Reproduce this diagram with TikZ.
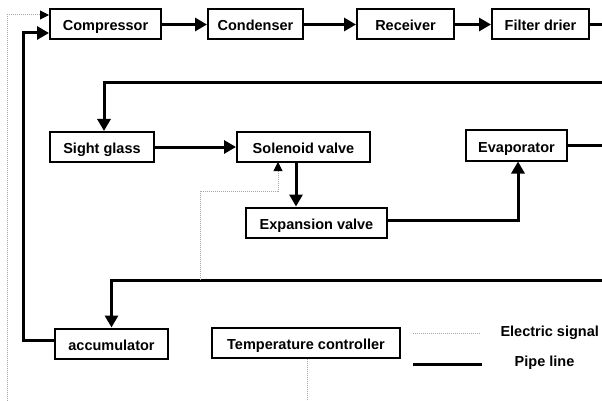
\documentclass[tikz,border=0pt]{standalone}
\usepackage{fontspec}
\setmainfont{Liberation Sans}
\usetikzlibrary{arrows.meta}
\tikzset{
  unit/.style={draw, line width=2pt, inner sep=0pt, minimum height=30pt,
    text height=14pt, text depth=1pt,
    font=\fontsize{14.5}{17}\selectfont\bfseries},
  pipe/.style={line width=3pt},
  signal/.style={gray!70, line width=1pt, dash pattern=on 1pt off 1pt},
  flow/.style={pipe, -{Triangle[length=12pt,width=13pt]}},
  ctrl/.style={signal, -{Triangle[length=9pt,width=9pt,black,fill=black]}}
}
\begin{document}
\begin{tikzpicture}[x=1pt,y=-1pt]
        \useasboundingbox (0,0) rectangle (602,401);
        \node[unit, minimum width=111pt] (comp) at (105.5,24.5) {Compressor};
        \node[unit, minimum width=95pt] (cond) at (255.5,24.5) {Condenser};
        \node[unit, minimum width=97pt] (recv) at (405.5,24.5) {Receiver};
        \node[unit, minimum width=97pt] (filt) at (540.5,24.5) {Filter drier};
        \node[unit, minimum width=104pt] (sight) at (102,147) {Sight glass};
        \node[unit, minimum width=133pt] (sol) at (303.5,147) {Solenoid valve};
        \node[unit, minimum width=141pt] (exp) at (316.5,222.5) {Expansion valve};
        \node[unit, minimum width=101pt] (evap) at (516.5,145.5) {Evaporator};
        \node[unit, minimum width=113pt] (acc) at (111.5,343.5) {accumulator};
        \node[unit, minimum width=188pt] (temp) at (306,342.5) {Temperature controller};
        \coordinate (filtout) at (602,24.5);
        \coordinate (liqin) at (602,83);
        \coordinate (evapout) at (602,145.5);
        \coordinate (sucin) at (602,280);
        \coordinate (sucret) at (23,33);
        \coordinate (sigleft) at (7,401);
        \coordinate (sigmid) at (200,280);
        \coordinate (sigbot) at (307,401);
        \draw[flow] (comp) -- (cond);
        \draw[flow] (cond) -- (recv);
        \draw[flow] (recv) -- (filt);
        \draw[pipe] (filt) -- (filtout);
        \draw[flow] (liqin) -| ([xshift=2pt]sight.north);
        \draw[flow] (sight) -- (sol);
        \draw[flow] ([xshift=-7.5pt]sol.south) -- ([xshift=-7.5pt]sol.south |- exp.north);
        \draw[flow] ([yshift=2.5pt]exp.east) -| ([xshift=1.5pt]evap.south);
        \draw[pipe] (evap) -- (evapout);
        \draw[flow] (sucin) -| (acc.north);
        \draw[flow] ([yshift=3pt]acc.west) -| (sucret) -- (sucret -| comp.west);
        \draw[ctrl] (sigleft) |- ([yshift=9.5pt]comp.west);
        \draw[ctrl] (sigmid) |- (278,191) -- (278,162);
        \draw[signal] ([xshift=1pt]temp.south) -- (sigbot);
        \draw[signal] (413,333) -- (481,333);
        \draw[pipe] (413,364) -- (482,364);
        \node[anchor=west, font=\fontsize{14.5}{17}\selectfont\bfseries] (elec) at (497,333) {Electric signal};
        \node[font=\fontsize{14.5}{17}\selectfont\bfseries] (pipel) at (544.5,363) {Pipe line};
      \end{tikzpicture}
\end{document}
